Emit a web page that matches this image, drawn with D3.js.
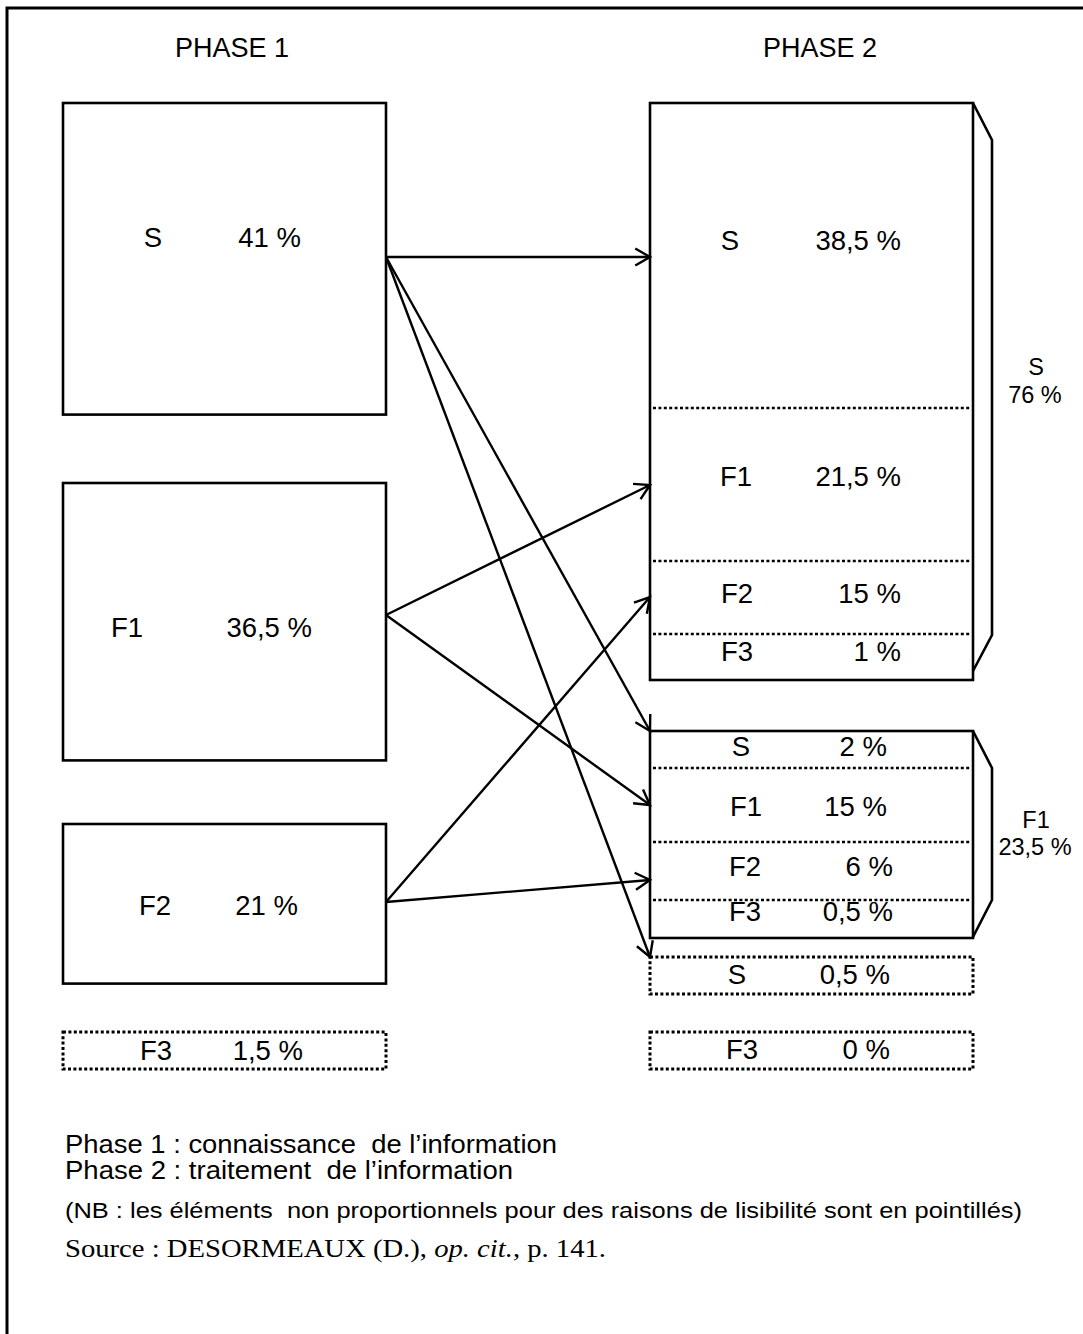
<!DOCTYPE html>
<html><head><meta charset="utf-8">
<script src="https://cdn.jsdelivr.net/npm/d3@7"></script>
<style>body{margin:0;background:#fff}svg{display:block}</style>
</head><body>
<svg id="c" width="1083" height="1334"></svg>
<script>
// ---------------- DATA ----------------
const phaseTitles = ["PHASE 1", "PHASE 2"];
const phase1Cats = ["S", "F1", "F2", "F3"];
const phase1Values = [41, 36.5, 21, 1.5];
const phase1Dotted = [false, false, false, true];

const phase2GroupCats = ["S", "F1"];
const phase2GroupValues = [76, 23.5];
const phase2Cats = ["S", "F1", "F2", "F3"];
const phase2GroupSValues = [38.5, 21.5, 15, 1];
const phase2GroupF1Values = [2, 15, 6, 0.5];
const phase2ExtraCats = ["S", "F3"];
const phase2ExtraValues = [0.5, 0];

// flows: phase-1 source -> phase-2 target cell (group/category)
const flowSources = ["S", "S", "S", "F1", "F1", "F2", "F2"];
const flowTargets = ["S/S", "F1/S", "extra/S", "S/F1", "F1/F1", "S/F2", "F1/F2"];

const legendLines = ["Phase\u00a01 : connaissance  de l\u2019information", "Phase\u00a02 : traitement  de l\u2019information"];
const noteText = "(NB : les \u00e9l\u00e9ments  non proportionnels pour des raisons de lisibilit\u00e9 sont en pointill\u00e9s)";
const sourceParts = ["Source : DESORMEAUX (D.), ", "op. cit.", ", p. 141."];

// ---------------- LAYOUT ----------------
const fmt = v => String(v).replace(".", ",") + " %";
const svg = d3.select("#c");
const SANS = "'Liberation Sans', Arial, sans-serif";
const SERIF = "'Liberation Serif', 'Times New Roman', serif";
const INK = "#000";
const FS = 27.5;

// px per percentage point for proportional boxes
const len = d3.scaleLinear().domain([0, 1]).range([0, 7.6]);

// frame
svg.append("rect").attr("x", 7).attr("y", 8).attr("width", 1200).attr("height", 1400)
  .attr("fill", "none").attr("stroke", INK).attr("stroke-width", 3);

// titles
const titleX = [232, 820];
svg.selectAll("text.title").data(phaseTitles).join("text").attr("class", "title")
  .attr("x", (d, i) => titleX[i]).attr("y", 47).attr("dy", "0.36em")
  .attr("text-anchor", "middle").attr("font-family", SANS).attr("font-size", 27).text(d => d);

// ---- Phase 1 ----
const p1x0 = 63, p1x1 = 386;
const p1Top = [103, 483, 824, 1032];
const p1DottedH = 37;
const p1 = phase1Cats.map((c, i) => ({
  cat: c, v: phase1Values[i], dotted: phase1Dotted[i],
  y: p1Top[i], h: phase1Dotted[i] ? p1DottedH : len(phase1Values[i])
}));
const p1LabelX = [153, 127, 155, 156];
const p1ValueR = [301, 312, 298, 303];
const p1TextY = [237, 627, 905, 1050];

svg.selectAll("rect.p1").data(p1).join("rect").attr("class", "p1")
  .attr("x", p1x0).attr("y", d => d.y).attr("width", p1x1 - p1x0).attr("height", d => d.h)
  .attr("fill", "none").attr("stroke", INK)
  .attr("stroke-width", d => d.dotted ? 3 : 2.6)
  .attr("stroke-dasharray", d => d.dotted ? "3,2.4" : null);

function labels(data, labelX, valueR, textY) {
  const g = svg.append("g").attr("font-family", SANS).attr("font-size", FS).attr("fill", INK);
  g.selectAll("text.l").data(data).join("text").attr("class", "l")
    .attr("x", (d, i) => labelX[i]).attr("y", (d, i) => textY[i]).attr("dy", "0.36em")
    .attr("text-anchor", "middle").text(d => d.cat);
  g.selectAll("text.v").data(data).join("text").attr("class", "v")
    .attr("x", (d, i) => valueR[i]).attr("y", (d, i) => textY[i]).attr("dy", "0.36em")
    .attr("text-anchor", "end").text(d => fmt(d.v));
}
labels(p1, p1LabelX, p1ValueR, p1TextY);

// ---- Phase 2 ----
const p2x0 = 650, p2x1 = 973;
const groupTop = [103, 731];
const groupSegH = [[305, 153, 73, 46], [37, 74, 58, 38]];
const groupVals = [phase2GroupSValues, phase2GroupF1Values];
const groupLabelX = [[730, 736, 737, 737], [741, 746, 745, 745]];
const groupValueR = [[901, 901, 901, 901], [887, 887, 893, 893]];
const groupTextY = [[240, 476, 593, 651], [746, 806, 866, 911]];
const groupArrowY = [[257, 485, 597, 0], [731, 805, 880, 0]];

const targetY = {};
phase2GroupCats.forEach((g, gi) => {
  let y = groupTop[gi];
  const segs = phase2Cats.map((c, i) => {
    const s = { cat: c, v: groupVals[gi][i], y: y, h: groupSegH[gi][i] };
    y += groupSegH[gi][i];
    return s;
  });
  const total = d3.sum(groupSegH[gi]);
  const gg = svg.append("g");
  gg.append("rect").attr("x", p2x0).attr("y", groupTop[gi]).attr("width", p2x1 - p2x0).attr("height", total)
    .attr("fill", "none").attr("stroke", INK).attr("stroke-width", 2.6);
  gg.selectAll("line.sep").data(segs.slice(1)).join("line").attr("class", "sep")
    .attr("x1", p2x0 + 3).attr("x2", p2x1 - 2).attr("y1", d => d.y).attr("y2", d => d.y)
    .attr("stroke", INK).attr("stroke-width", 2.6).attr("stroke-dasharray", "3,2.4");
  labels(segs, groupLabelX[gi], groupValueR[gi], groupTextY[gi]);
  // bracket
  const b0 = groupTop[gi], b1 = groupTop[gi] + total;
  const bx = p2x1 + 19;
  const inset = [[37, 45], [37, 38]][gi];
  gg.append("path")
    .attr("d", d3.line()([[p2x1, b0], [bx, b0 + inset[0]], [bx, b1 - inset[1]], [p2x1, b1 - [9, 1][gi]]]))
    .attr("fill", "none").attr("stroke", INK).attr("stroke-width", 2.6);
  // group label
  const gy = [[375, 403], [828, 855]][gi];
  const gt = svg.append("g").attr("font-family", SANS).attr("font-size", 23.5).attr("text-anchor", "middle");
  gt.append("text").attr("x", 1036).attr("y", gy[0]).text(g);
  gt.append("text").attr("x", 1035).attr("y", gy[1]).text(fmt(phase2GroupValues[gi]));
  segs.forEach((s, i) => { targetY[g + "/" + s.cat] = groupArrowY[gi][i]; });
});

// extra dotted cells
const extraTop = [957, 1032];
const extraH = 37;
const extra = phase2ExtraCats.map((c, i) => ({ cat: c, v: phase2ExtraValues[i], y: extraTop[i], h: extraH }));
svg.selectAll("rect.ex").data(extra).join("rect").attr("class", "ex")
  .attr("x", p2x0).attr("y", d => d.y).attr("width", p2x1 - p2x0).attr("height", d => d.h)
  .attr("fill", "none").attr("stroke", INK).attr("stroke-width", 3).attr("stroke-dasharray", "3,2.4");
labels(extra, [737, 742], [890, 890], [974, 1049]);
targetY["extra/S"] = 957;

// ---- flows ----
const sourceY = { "S": 257, "F1": 615, "F2": 902 };
const flows = flowSources.map((s, i) => ({ x1: p1x1, y1: sourceY[s], x2: p2x0, y2: targetY[flowTargets[i]] }));
const fg = svg.append("g").attr("stroke", INK).attr("stroke-width", 2.4).attr("fill", "none");
fg.selectAll("line").data(flows).join("line")
  .attr("x1", d => d.x1).attr("y1", d => d.y1).attr("x2", d => d.x2).attr("y2", d => d.y2);
const AL = 17, AA = Math.PI / 6;
fg.selectAll("path").data(flows).join("path")
  .attr("d", d => {
    const a = Math.atan2(d.y2 - d.y1, d.x2 - d.x1) + Math.PI;
    const p1 = [d.x2 + AL * Math.cos(a - AA), d.y2 + AL * Math.sin(a - AA)];
    const p2 = [d.x2 + AL * Math.cos(a + AA), d.y2 + AL * Math.sin(a + AA)];
    return d3.line()([p1, [d.x2, d.y2], p2]);
  });

// ---- legend ----
const lg = svg.append("g").attr("font-family", SANS).attr("fill", INK);
lg.selectAll("text.leg").data(legendLines).join("text").attr("class", "leg")
  .attr("x", 65).attr("y", (d, i) => [1153, 1179][i]).attr("font-size", 25.5)
  .attr("textLength", (d, i) => [492, 448][i]).attr("lengthAdjust", "spacingAndGlyphs")
  .style("white-space", "pre").text(d => d);
lg.append("text").attr("x", 65).attr("y", 1218).attr("font-size", 22)
  .attr("textLength", 957).attr("lengthAdjust", "spacingAndGlyphs")
  .style("white-space", "pre").text(noteText);
const st = svg.append("text").attr("x", 65).attr("y", 1257).attr("font-family", SERIF).attr("font-size", 25)
  .attr("textLength", 541).attr("lengthAdjust", "spacingAndGlyphs");
st.append("tspan").text(sourceParts[0]);
st.append("tspan").attr("font-style", "italic").text(sourceParts[1]);
st.append("tspan").text(sourceParts[2]);
</script>
</body></html>
